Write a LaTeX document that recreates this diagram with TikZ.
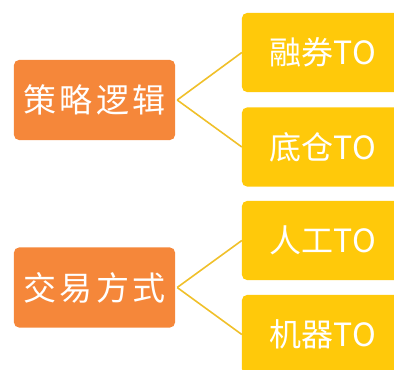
\documentclass[tikz,border=0pt]{standalone}
\usepackage{fontspec}
\newfontfamily\cjk{Noto Sans CJK SC}
\definecolor{orangebox}{HTML}{F5873A}
\definecolor{yellowbox}{HTML}{FFC90A}
\definecolor{linkcol}{HTML}{F0C02A}
\newcommand{\gapsp}{\hspace{3.5bp}}
\begin{document}
\begin{tikzpicture}[x=1bp,y=1bp,
  catbox/.style={fill=orangebox, rounded corners=5bp, minimum width=161bp, minimum height=80bp, inner sep=0pt, text=white, font=\cjk\fontsize{33bp}{36bp}\selectfont},
  leafbox/.style={fill=yellowbox, rounded corners=5bp, minimum width=162bp, minimum height=79bp, inner sep=0pt, text=white, font=\cjk\fontsize{32bp}{36bp}\selectfont},
  link/.style={draw=linkcol, line width=1.6bp}]
\useasboundingbox (0,0) rectangle (394,370);
\node[catbox] (c1) at (94.5,270) {策\gapsp 略\gapsp 逻\gapsp 辑};
\node[catbox] (c2) at (94.5,82.5) {交\gapsp 易\gapsp 方\gapsp 式};
\node[leafbox] (l1) at (323,317.5) {融券TO};
\node[leafbox] (l2) at (323,223) {底仓TO};
\node[leafbox] (l3) at (323,129.5) {人工TO};
\node[leafbox] (l4) at (323,35.5) {机器TO};
\draw[link] ([xshift=2bp]c1.east) -- (l1.west);
\draw[link] ([xshift=2bp]c1.east) -- (l2.west);
\draw[link] ([xshift=2bp]c2.east) -- (l3.west);
\draw[link] ([xshift=2bp]c2.east) -- (l4.west);
\end{tikzpicture}
\end{document}
